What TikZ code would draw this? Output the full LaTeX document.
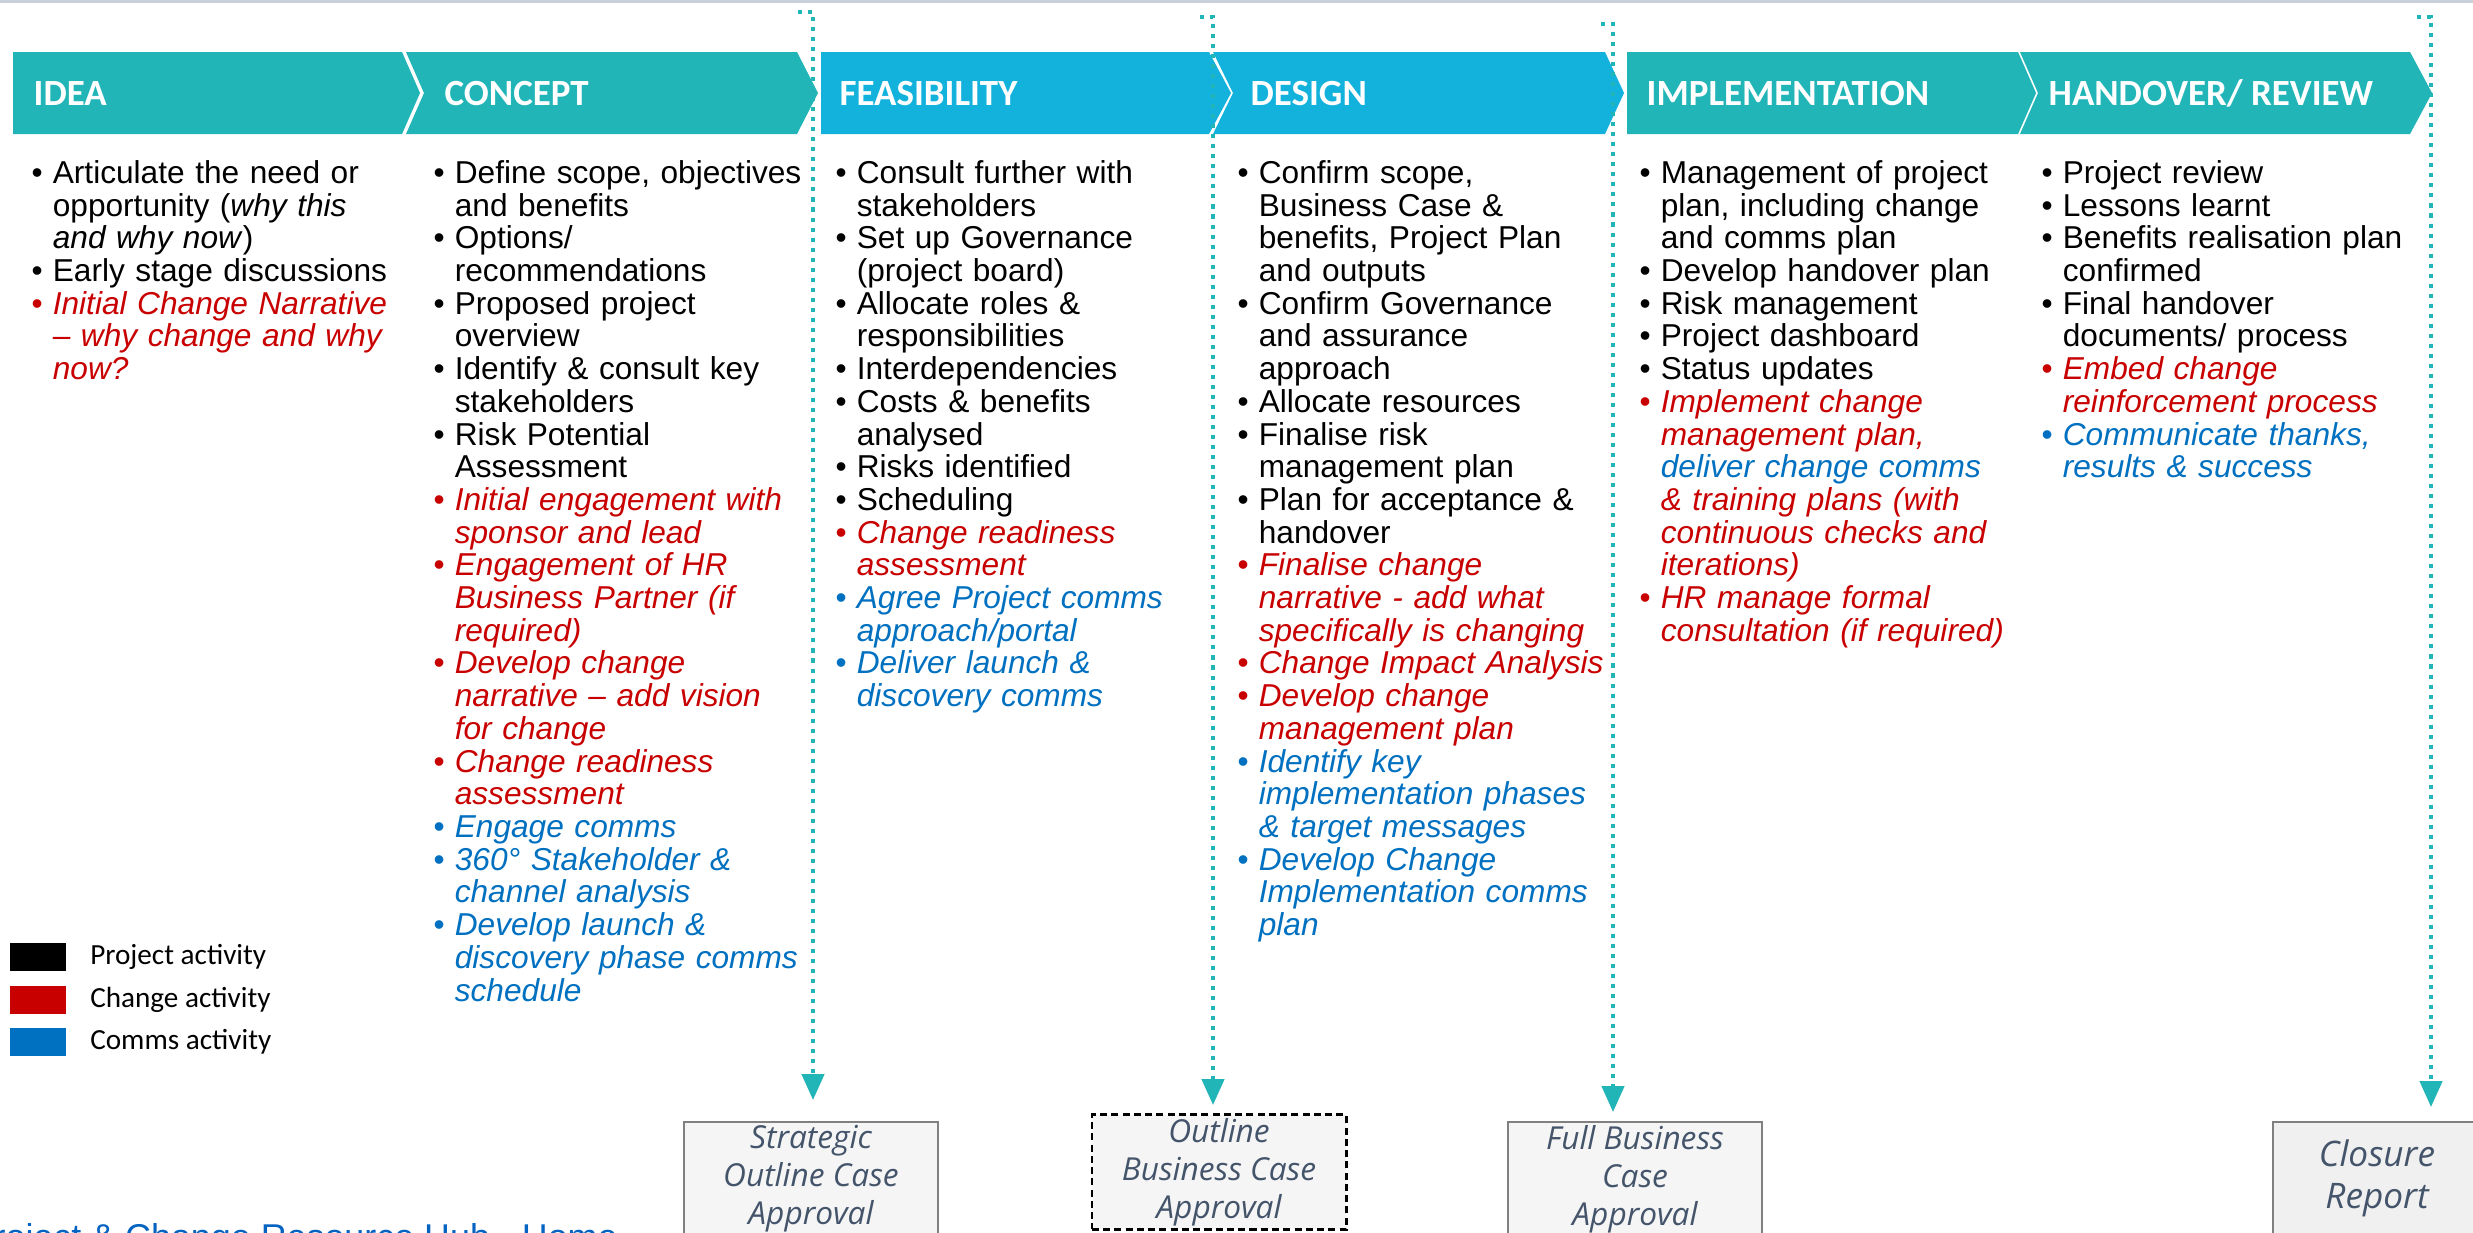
\documentclass[tikz,border=0pt]{standalone}
\usepackage{fontspec}
\setmainfont{Liberation Sans}
\newfontfamily\headfont{Carlito}
\newfontfamily\gatefont{Open Sans}
\usetikzlibrary{arrows.meta,positioning}

\definecolor{phaseteal}{HTML}{22B5B7}
\definecolor{phaseblue}{HTML}{13B2DC}
\definecolor{chgred}{HTML}{C80000}
\definecolor{comblue}{HTML}{0070C0}
\definecolor{gatetext}{HTML}{44546A}
\definecolor{linkblue}{HTML}{0563C1}
\definecolor{topline}{HTML}{C8D0DA}

\newlength{\bulw}
\setlength{\bulw}{6pt}
\newcommand{\bulitem}[2]{\par\lineskiplimit-20pt\relax
  \hangindent=\bulw\hangafter=1\noindent
  \makebox[\bulw][l]{\color{#1}\textbullet}\strut{\color{#1}#2}\par}
\newcommand{\projitem}[1]{\bulitem{black}{#1}}
\newcommand{\chgitem}[1]{\bulitem{chgred}{\itshape #1}}
\newcommand{\comitem}[1]{\bulitem{comblue}{\itshape #1}}

\tikzset{
  head/.style={anchor=base west, inner sep=0pt, text=white,
    font=\headfont\bfseries\fontsize{10.5}{12}\selectfont},
  col/.style={anchor=north west, inner sep=0pt, text width=125pt,
    font=\fontsize{9}{9.3}\selectfont},
  gate/.style={draw=gray, line width=0.6pt, fill=black!4, text=gatetext,
    align=center, minimum width=2.54cm, inner ysep=1pt,
    font=\gatefont\itshape\fontsize{9}{10.8}\selectfont},
  gateline/.style={draw=phaseteal, line width=1.15pt,
    dash pattern=on 1.15pt off 1.7pt,
    -{Triangle[width=6.3pt,length=7.4pt]}},
  legbox/.style={minimum width=0.56cm, minimum height=0.28cm, inner sep=0pt},
  legtext/.style={inner sep=0pt, font=\headfont\fontsize{8.3}{10}\selectfont}
}

\begin{document}
\begin{tikzpicture}[x=0.01cm, y=-0.01cm]
	\clip (0,0) rectangle (2473,1232);
	\fill[white] (0,0) rectangle (2473,1232);
	\fill[topline] (0,0) rectangle (2473,3);

	% phase banner
	\fill[phaseteal] (13,52) -- (402,52) -- (420,93) -- (402,134) -- (13,134) -- cycle;
	\fill[phaseteal] (406,52) -- (797,52) -- (818,93) -- (797,134) -- (406,134) -- (424,93) -- cycle;
	\fill[phaseblue] (821,52) -- (1209,52) -- (1231,93) -- (1209,134) -- (821,134) -- cycle;
	\fill[phaseblue] (1213,52) -- (1605,52) -- (1624,93) -- (1605,134) -- (1213,134) -- (1233,93) -- cycle;
	\fill[phaseteal] (1627,52) -- (2018,52) -- (2036,93) -- (2018,134) -- (1627,134) -- cycle;
	\fill[phaseteal] (2020,52) -- (2410,52) -- (2432,93) -- (2410,134) -- (2020,134) -- (2038,93) -- cycle;

	\node[head] (idea) at (33,105) {IDEA};
	\node[head] (concept) at (444,105) {CONCEPT};
	\node[head] (feas) at (839,105) {FEASIBILITY};
	\node[head] (design) at (1250,105) {DESIGN};
	\node[head] (impl) at (1646,105) {IMPLEMENTATION};
	\node[head] (handover) at (2048,105) {HANDOVER/ REVIEW};

	% activities per phase
	\node[col] (idealist) at (31,150) {%
		\projitem{Articulate the need or\newline opportunity (\textit{why this}\newline \textit{and why now})}
		\projitem{Early stage discussions}
		\chgitem{Initial Change Narrative\newline -- why change and why\newline now?}};

	\node[col] (conceptlist) at (433,150) {%
		\projitem{Define scope, objectives\newline and benefits}
		\projitem{Options/\newline recommendations}
		\projitem{Proposed project\newline overview}
		\projitem{Identify \& consult key\newline stakeholders}
		\projitem{Risk Potential\newline Assessment}
		\chgitem{Initial engagement with\newline sponsor and lead}
		\chgitem{Engagement of HR\newline Business Partner (if\newline required)}
		\chgitem{Develop change\newline narrative -- add vision\newline for change}
		\chgitem{Change readiness\newline assessment}
		\comitem{Engage comms}
		\comitem{360\textdegree\ Stakeholder \&\newline channel analysis}
		\comitem{Develop launch \&\newline discovery phase comms\newline schedule}};

	\node[col] (feaslist) at (835,150) {%
		\projitem{Consult further with\newline stakeholders}
		\projitem{Set up Governance\newline (project board)}
		\projitem{Allocate roles \&\newline responsibilities}
		\projitem{Interdependencies}
		\projitem{Costs \& benefits\newline analysed}
		\projitem{Risks identified}
		\projitem{Scheduling}
		\chgitem{Change readiness\newline assessment}
		\comitem{Agree Project comms\newline approach/portal}
		\comitem{Deliver launch \&\newline discovery comms}};

	\node[col] (designlist) at (1237,150) {%
		\projitem{Confirm scope,\newline Business Case \&\newline benefits, Project Plan\newline and outputs}
		\projitem{Confirm Governance\newline and assurance\newline approach}
		\projitem{Allocate resources}
		\projitem{Finalise risk\newline management plan}
		\projitem{Plan for acceptance \&\newline handover}
		\chgitem{Finalise change\newline narrative - add what\newline specifically is changing}
		\chgitem{Change Impact Analysis}
		\chgitem{Develop change\newline management plan}
		\comitem{Identify key\newline implementation phases\newline \& target messages}
		\comitem{Develop Change\newline Implementation comms\newline plan}};

	\node[col] (impllist) at (1639,150) {%
		\projitem{Management of project\newline plan, including change\newline and comms plan}
		\projitem{Develop handover plan}
		\projitem{Risk management}
		\projitem{Project dashboard}
		\projitem{Status updates}
		\chgitem{Implement change\newline management plan,\newline {\color{comblue}deliver change comms}\newline \& training plans (with\newline continuous checks and\newline iterations)}
		\chgitem{HR manage formal\newline consultation (if required)}};

	\node[col] (handoverlist) at (2041,150) {%
		\projitem{Project review}
		\projitem{Lessons learnt}
		\projitem{Benefits realisation plan\newline confirmed}
		\projitem{Final handover\newline documents/ process}
		\chgitem{Embed change\newline reinforcement process}
		\comitem{Communicate thanks,\newline results \& success}};

	% legend
	\node[legbox, fill=black] (legproj) at (38,957) {};
	\node[legbox, fill=chgred] (legchg) at (38,1000) {};
	\node[legbox, fill=comblue] (legcom) at (38,1042) {};
	\node[legtext, right=6.5pt of legproj] (legprojtxt) {Project activity};
	\node[legtext, right=6.5pt of legchg] (legchgtxt) {Change activity};
	\node[legtext, right=6.5pt of legcom] (legcomtxt) {Comms activity};

	% approval gates
	\node[gate, anchor=north] (soc) at (811,1121) {Strategic\\Outline Case\\Approval\rule[-14pt]{0pt}{0pt}};
	\node[gate, draw=black, line width=0.8pt, dash pattern=on 2pt off 1.2pt,
		minimum height=1.12cm] (obc) at (1219,1172) {Outline\\Business Case\\Approval};
	\node[gate, anchor=north] (fbc) at (1635,1121) {Full Business\\Case\\Approval\rule[-14pt]{0pt}{0pt}};
	\node[gate, anchor=north, minimum width=2.08cm, fill=black!6, inner ysep=5pt,
		font=\gatefont\itshape\fontsize{10}{12}\selectfont] (closure) at (2377,1121) {Closure\\Report\rule[-20pt]{0pt}{0pt}};

	\coordinate (top1) at (798,12);
	\coordinate (top2) at (1200,17);
	\coordinate (top3) at (1601,24);
	\coordinate (top4) at (2417,17);
	\coordinate (tip1) at (813,1100);
	\coordinate (tip2) at (1213,1105);
	\coordinate (tip3) at (1613,1112);
	\coordinate (tip4) at (2431,1107);
	\draw[gateline] (top1) -| (tip1);
	\draw[gateline] (top2) -| (tip2);
	\draw[gateline] (top3) -| (tip3);
	\draw[gateline] (top4) -| (tip4);

	\node[anchor=base west, inner sep=0pt, text=linkblue, font=\fontsize{10.2}{12}\selectfont]
		(hublink) at (-31,1249) {Project \& Change Resource Hub - Home};
\end{tikzpicture}
\end{document}
